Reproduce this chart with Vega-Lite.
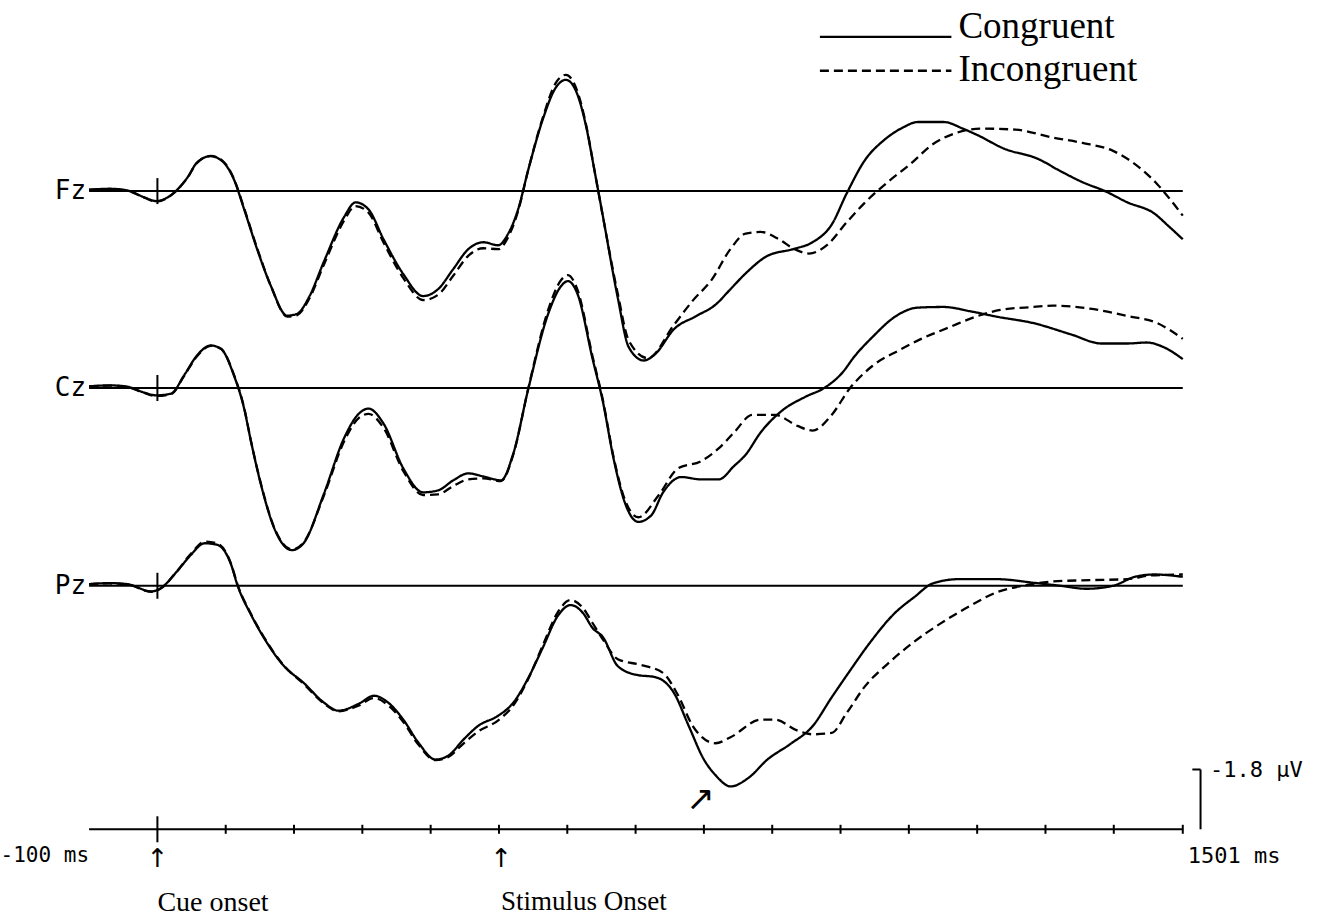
{
  "$schema": "https://vega.github.io/schema/vega-lite/v6.json",
  "width": 1333,
  "height": 918,
  "autosize": {"type": "fit", "contains": "padding"},
  "padding": 0,
  "background": "white",
  "config": {"view": {"stroke": null}, "axis": {"disable": true}},
  "datasets": {
    "Fz": [
      {"c":"Congruent","t":-100,"v":-0.04},{"c":"Congruent","t":-70,"v":-0.07},{"c":"Congruent","t":-44,"v":-0.02},{"c":"Congruent","t":-19,"v":0.19},{"c":"Congruent","t":-2,"v":0.30},{"c":"Congruent","t":15,"v":0.19},{"c":"Congruent","t":27,"v":0.0},{"c":"Congruent","t":44,"v":-0.41},{"c":"Congruent","t":58,"v":-0.86},{"c":"Congruent","t":78,"v":-1.05},{"c":"Congruent","t":95,"v":-0.90},{"c":"Congruent","t":112,"v":-0.35},{"c":"Congruent","t":127,"v":0.55},{"c":"Congruent","t":146,"v":1.75},{"c":"Congruent","t":166,"v":2.85},{"c":"Congruent","t":190,"v":3.75},{"c":"Congruent","t":204,"v":3.70},{"c":"Congruent","t":222,"v":3.19},{"c":"Congruent","t":244,"v":2.11},{"c":"Congruent","t":273,"v":0.79},{"c":"Congruent","t":290,"v":0.34},{"c":"Congruent","t":309,"v":0.55},{"c":"Congruent","t":331,"v":1.45},{"c":"Congruent","t":360,"v":2.50},{"c":"Congruent","t":389,"v":3.16},{"c":"Congruent","t":411,"v":2.95},{"c":"Congruent","t":433,"v":2.35},{"c":"Congruent","t":455,"v":1.75},{"c":"Congruent","t":477,"v":1.54},{"c":"Congruent","t":499,"v":1.63},{"c":"Congruent","t":513,"v":1.30},{"c":"Congruent","t":528,"v":0.55},{"c":"Congruent","t":543,"v":-0.65},{"c":"Congruent","t":564,"v":-2.15},{"c":"Congruent","t":583,"v":-3.11},{"c":"Congruent","t":598,"v":-3.35},{"c":"Congruent","t":613,"v":-3.0},{"c":"Congruent","t":627,"v":-2.0},{"c":"Congruent","t":640,"v":-0.6},{"c":"Congruent","t":652,"v":0.74},{"c":"Congruent","t":674,"v":3.22},{"c":"Congruent","t":690,"v":4.70},{"c":"Congruent","t":712,"v":5.10},{"c":"Congruent","t":729,"v":4.90},{"c":"Congruent","t":756,"v":4.16},{"c":"Congruent","t":789,"v":3.76},{"c":"Congruent","t":817,"v":3.42},{"c":"Congruent","t":839,"v":2.95},{"c":"Congruent","t":861,"v":2.48},{"c":"Congruent","t":893,"v":1.95},{"c":"Congruent","t":932,"v":1.74},{"c":"Congruent","t":959,"v":1.54},{"c":"Congruent","t":987,"v":1.01},{"c":"Congruent","t":1009,"v":0.07},{"c":"Congruent","t":1036,"v":-0.94},{"c":"Congruent","t":1064,"v":-1.54},{"c":"Congruent","t":1091,"v":-1.91},{"c":"Congruent","t":1113,"v":-2.08},{"c":"Congruent","t":1151,"v":-2.08},{"c":"Congruent","t":1179,"v":-1.88},{"c":"Congruent","t":1201,"v":-1.68},{"c":"Congruent","t":1239,"v":-1.28},{"c":"Congruent","t":1289,"v":-0.97},{"c":"Congruent","t":1322,"v":-0.60},{"c":"Congruent","t":1354,"v":-0.27},{"c":"Congruent","t":1387,"v":0.0},{"c":"Congruent","t":1420,"v":0.34},{"c":"Congruent","t":1459,"v":0.67},{"c":"Congruent","t":1481,"v":1.07},{"c":"Congruent","t":1501,"v":1.45},
      {"c":"Incongruent","t":-100,"v":-0.04},{"c":"Incongruent","t":-70,"v":-0.06},{"c":"Incongruent","t":-44,"v":-0.01},{"c":"Incongruent","t":-19,"v":0.20},{"c":"Incongruent","t":-2,"v":0.32},{"c":"Incongruent","t":15,"v":0.20},{"c":"Incongruent","t":27,"v":0.0},{"c":"Incongruent","t":44,"v":-0.40},{"c":"Incongruent","t":58,"v":-0.85},{"c":"Incongruent","t":78,"v":-1.06},{"c":"Incongruent","t":95,"v":-0.92},{"c":"Incongruent","t":112,"v":-0.37},{"c":"Incongruent","t":127,"v":0.52},{"c":"Incongruent","t":146,"v":1.72},{"c":"Incongruent","t":166,"v":2.85},{"c":"Incongruent","t":190,"v":3.78},{"c":"Incongruent","t":204,"v":3.74},{"c":"Incongruent","t":222,"v":3.25},{"c":"Incongruent","t":244,"v":2.2},{"c":"Incongruent","t":273,"v":0.9},{"c":"Incongruent","t":290,"v":0.45},{"c":"Incongruent","t":309,"v":0.65},{"c":"Incongruent","t":331,"v":1.55},{"c":"Incongruent","t":360,"v":2.62},{"c":"Incongruent","t":389,"v":3.28},{"c":"Incongruent","t":411,"v":3.12},{"c":"Incongruent","t":433,"v":2.55},{"c":"Incongruent","t":455,"v":1.95},{"c":"Incongruent","t":477,"v":1.72},{"c":"Incongruent","t":499,"v":1.75},{"c":"Incongruent","t":513,"v":1.4},{"c":"Incongruent","t":528,"v":0.6},{"c":"Incongruent","t":543,"v":-0.65},{"c":"Incongruent","t":564,"v":-2.2},{"c":"Incongruent","t":583,"v":-3.25},{"c":"Incongruent","t":598,"v":-3.5},{"c":"Incongruent","t":613,"v":-3.1},{"c":"Incongruent","t":627,"v":-2.05},{"c":"Incongruent","t":640,"v":-0.6},{"c":"Incongruent","t":652,"v":0.75},{"c":"Incongruent","t":674,"v":3.1},{"c":"Incongruent","t":690,"v":4.5},{"c":"Incongruent","t":718,"v":5.03},{"c":"Incongruent","t":756,"v":4.03},{"c":"Incongruent","t":784,"v":3.29},{"c":"Incongruent","t":811,"v":2.68},{"c":"Incongruent","t":839,"v":1.74},{"c":"Incongruent","t":861,"v":1.28},{"c":"Incongruent","t":883,"v":1.23},{"c":"Incongruent","t":910,"v":1.45},{"c":"Incongruent","t":932,"v":1.74},{"c":"Incongruent","t":954,"v":1.88},{"c":"Incongruent","t":981,"v":1.61},{"c":"Incongruent","t":1009,"v":0.94},{"c":"Incongruent","t":1036,"v":0.34},{"c":"Incongruent","t":1069,"v":-0.27},{"c":"Incongruent","t":1102,"v":-0.81},{"c":"Incongruent","t":1135,"v":-1.41},{"c":"Incongruent","t":1168,"v":-1.74},{"c":"Incongruent","t":1206,"v":-1.88},{"c":"Incongruent","t":1256,"v":-1.85},{"c":"Incongruent","t":1311,"v":-1.61},{"c":"Incongruent","t":1354,"v":-1.45},{"c":"Incongruent","t":1399,"v":-1.21},{"c":"Incongruent","t":1431,"v":-0.81},{"c":"Incongruent","t":1464,"v":-0.20},{"c":"Incongruent","t":1486,"v":0.34},{"c":"Incongruent","t":1501,"v":0.74}
    ],
    "Cz": [
      {"c":"Congruent","t":-100,"v":-0.05},{"c":"Congruent","t":-70,"v":-0.08},{"c":"Congruent","t":-44,"v":-0.04},{"c":"Congruent","t":-19,"v":0.14},{"c":"Congruent","t":-2,"v":0.22},{"c":"Congruent","t":20,"v":0.17},{"c":"Congruent","t":39,"v":-0.38},{"c":"Congruent","t":58,"v":-0.98},{"c":"Congruent","t":78,"v":-1.28},{"c":"Congruent","t":93,"v":-1.18},{"c":"Congruent","t":112,"v":-0.38},{"c":"Congruent","t":127,"v":0.62},{"c":"Congruent","t":137,"v":1.61},{"c":"Congruent","t":153,"v":3.02},{"c":"Congruent","t":171,"v":4.22},{"c":"Congruent","t":197,"v":4.88},{"c":"Congruent","t":214,"v":4.67},{"c":"Congruent","t":244,"v":3.17},{"c":"Congruent","t":273,"v":1.52},{"c":"Congruent","t":295,"v":0.77},{"c":"Congruent","t":309,"v":0.62},{"c":"Congruent","t":331,"v":1.07},{"c":"Congruent","t":360,"v":2.42},{"c":"Congruent","t":389,"v":3.14},{"c":"Congruent","t":411,"v":3.08},{"c":"Congruent","t":433,"v":2.78},{"c":"Congruent","t":455,"v":2.57},{"c":"Congruent","t":477,"v":2.66},{"c":"Congruent","t":503,"v":2.78},{"c":"Congruent","t":521,"v":1.97},{"c":"Congruent","t":543,"v":0.02},{"c":"Congruent","t":572,"v":-2.23},{"c":"Congruent","t":591,"v":-3.07},{"c":"Congruent","t":601,"v":-3.22},{"c":"Congruent","t":615,"v":-2.83},{"c":"Congruent","t":637,"v":-0.88},{"c":"Congruent","t":652,"v":0.40},{"c":"Congruent","t":668,"v":2.15},{"c":"Congruent","t":685,"v":3.49},{"c":"Congruent","t":704,"v":4.03},{"c":"Congruent","t":723,"v":3.83},{"c":"Congruent","t":740,"v":3.15},{"c":"Congruent","t":767,"v":2.68},{"c":"Congruent","t":795,"v":2.75},{"c":"Congruent","t":822,"v":2.75},{"c":"Congruent","t":844,"v":2.35},{"c":"Congruent","t":861,"v":2.01},{"c":"Congruent","t":883,"v":1.34},{"c":"Congruent","t":915,"v":0.67},{"c":"Congruent","t":948,"v":0.27},{"c":"Congruent","t":976,"v":0.0},{"c":"Congruent","t":1003,"v":-0.47},{"c":"Congruent","t":1020,"v":-0.94},{"c":"Congruent","t":1047,"v":-1.54},{"c":"Congruent","t":1080,"v":-2.15},{"c":"Congruent","t":1113,"v":-2.42},{"c":"Congruent","t":1151,"v":-2.44},{"c":"Congruent","t":1190,"v":-2.31},{"c":"Congruent","t":1228,"v":-2.15},{"c":"Congruent","t":1283,"v":-1.95},{"c":"Congruent","t":1338,"v":-1.61},{"c":"Congruent","t":1382,"v":-1.34},{"c":"Congruent","t":1420,"v":-1.34},{"c":"Congruent","t":1448,"v":-1.37},{"c":"Congruent","t":1475,"v":-1.21},{"c":"Congruent","t":1501,"v":-0.87},
      {"c":"Incongruent","t":-100,"v":-0.05},{"c":"Incongruent","t":-70,"v":-0.07},{"c":"Incongruent","t":-44,"v":-0.03},{"c":"Incongruent","t":-19,"v":0.15},{"c":"Incongruent","t":-2,"v":0.24},{"c":"Incongruent","t":20,"v":0.18},{"c":"Incongruent","t":39,"v":-0.36},{"c":"Incongruent","t":58,"v":-0.96},{"c":"Incongruent","t":78,"v":-1.27},{"c":"Incongruent","t":93,"v":-1.18},{"c":"Incongruent","t":112,"v":-0.40},{"c":"Incongruent","t":127,"v":0.60},{"c":"Incongruent","t":137,"v":1.60},{"c":"Incongruent","t":153,"v":3.00},{"c":"Incongruent","t":171,"v":4.20},{"c":"Incongruent","t":197,"v":4.86},{"c":"Incongruent","t":214,"v":4.65},{"c":"Incongruent","t":244,"v":3.22},{"c":"Incongruent","t":273,"v":1.62},{"c":"Incongruent","t":295,"v":0.90},{"c":"Incongruent","t":309,"v":0.78},{"c":"Incongruent","t":331,"v":1.20},{"c":"Incongruent","t":360,"v":2.50},{"c":"Incongruent","t":389,"v":3.22},{"c":"Incongruent","t":411,"v":3.20},{"c":"Incongruent","t":433,"v":2.95},{"c":"Incongruent","t":455,"v":2.75},{"c":"Incongruent","t":477,"v":2.72},{"c":"Incongruent","t":503,"v":2.80},{"c":"Incongruent","t":521,"v":2.00},{"c":"Incongruent","t":543,"v":0.0},{"c":"Incongruent","t":572,"v":-2.35},{"c":"Incongruent","t":591,"v":-3.25},{"c":"Incongruent","t":601,"v":-3.40},{"c":"Incongruent","t":615,"v":-2.95},{"c":"Incongruent","t":637,"v":-0.95},{"c":"Incongruent","t":652,"v":0.35},{"c":"Incongruent","t":668,"v":2.10},{"c":"Incongruent","t":685,"v":3.40},{"c":"Incongruent","t":704,"v":3.89},{"c":"Incongruent","t":734,"v":3.22},{"c":"Incongruent","t":762,"v":2.42},{"c":"Incongruent","t":795,"v":2.21},{"c":"Incongruent","t":822,"v":1.81},{"c":"Incongruent","t":844,"v":1.34},{"c":"Incongruent","t":871,"v":0.81},{"c":"Incongruent","t":904,"v":0.81},{"c":"Incongruent","t":937,"v":1.14},{"c":"Incongruent","t":959,"v":1.28},{"c":"Incongruent","t":987,"v":0.81},{"c":"Incongruent","t":1014,"v":0.0},{"c":"Incongruent","t":1047,"v":-0.67},{"c":"Incongruent","t":1086,"v":-1.14},{"c":"Incongruent","t":1118,"v":-1.48},{"c":"Incongruent","t":1157,"v":-1.81},{"c":"Incongruent","t":1201,"v":-2.17},{"c":"Incongruent","t":1234,"v":-2.35},{"c":"Incongruent","t":1283,"v":-2.44},{"c":"Incongruent","t":1311,"v":-2.48},{"c":"Incongruent","t":1365,"v":-2.39},{"c":"Incongruent","t":1420,"v":-2.17},{"c":"Incongruent","t":1464,"v":-1.95},{"c":"Incongruent","t":1501,"v":-1.48}
    ],
    "Pz": [
      {"c":"Congruent","t":-100,"v":-0.05},{"c":"Congruent","t":-70,"v":-0.08},{"c":"Congruent","t":-44,"v":-0.05},{"c":"Congruent","t":-9,"v":0.17},{"c":"Congruent","t":5,"v":0.07},{"c":"Congruent","t":29,"v":-0.44},{"c":"Congruent","t":49,"v":-0.93},{"c":"Congruent","t":69,"v":-1.28},{"c":"Congruent","t":88,"v":-1.23},{"c":"Congruent","t":108,"v":-0.63},{"c":"Congruent","t":117,"v":-0.03},{"c":"Congruent","t":137,"v":0.87},{"c":"Congruent","t":156,"v":1.57},{"c":"Congruent","t":185,"v":2.41},{"c":"Congruent","t":214,"v":2.92},{"c":"Congruent","t":244,"v":3.52},{"c":"Congruent","t":265,"v":3.76},{"c":"Congruent","t":295,"v":3.55},{"c":"Congruent","t":317,"v":3.31},{"c":"Congruent","t":338,"v":3.52},{"c":"Congruent","t":360,"v":4.03},{"c":"Congruent","t":382,"v":4.72},{"c":"Congruent","t":407,"v":5.23},{"c":"Congruent","t":426,"v":5.11},{"c":"Congruent","t":448,"v":4.63},{"c":"Congruent","t":470,"v":4.21},{"c":"Congruent","t":499,"v":3.91},{"c":"Congruent","t":521,"v":3.52},{"c":"Congruent","t":543,"v":2.77},{"c":"Congruent","t":564,"v":1.87},{"c":"Congruent","t":586,"v":0.91},{"c":"Congruent","t":605,"v":0.58},{"c":"Congruent","t":623,"v":0.82},{"c":"Congruent","t":637,"v":1.27},{"c":"Congruent","t":652,"v":1.54},{"c":"Congruent","t":674,"v":2.42},{"c":"Congruent","t":701,"v":2.68},{"c":"Congruent","t":729,"v":2.75},{"c":"Congruent","t":756,"v":3.22},{"c":"Congruent","t":778,"v":4.23},{"c":"Congruent","t":800,"v":5.23},{"c":"Congruent","t":817,"v":5.70},{"c":"Congruent","t":839,"v":6.04},{"c":"Congruent","t":866,"v":5.77},{"c":"Congruent","t":893,"v":5.23},{"c":"Congruent","t":926,"v":4.77},{"c":"Congruent","t":959,"v":4.23},{"c":"Congruent","t":987,"v":3.36},{"c":"Congruent","t":1014,"v":2.55},{"c":"Congruent","t":1042,"v":1.74},{"c":"Congruent","t":1080,"v":0.81},{"c":"Congruent","t":1108,"v":0.34},{"c":"Congruent","t":1135,"v":-0.07},{"c":"Congruent","t":1173,"v":-0.20},{"c":"Congruent","t":1228,"v":-0.20},{"c":"Congruent","t":1283,"v":-0.09},{"c":"Congruent","t":1322,"v":0.0},{"c":"Congruent","t":1360,"v":0.09},{"c":"Congruent","t":1399,"v":0.0},{"c":"Congruent","t":1431,"v":-0.27},{"c":"Congruent","t":1459,"v":-0.34},{"c":"Congruent","t":1501,"v":-0.27},
      {"c":"Incongruent","t":-100,"v":-0.05},{"c":"Incongruent","t":-70,"v":-0.07},{"c":"Incongruent","t":-44,"v":-0.04},{"c":"Incongruent","t":-9,"v":0.18},{"c":"Incongruent","t":5,"v":0.08},{"c":"Incongruent","t":29,"v":-0.45},{"c":"Incongruent","t":49,"v":-0.96},{"c":"Incongruent","t":69,"v":-1.33},{"c":"Incongruent","t":88,"v":-1.27},{"c":"Incongruent","t":108,"v":-0.65},{"c":"Incongruent","t":117,"v":-0.05},{"c":"Incongruent","t":137,"v":0.85},{"c":"Incongruent","t":156,"v":1.55},{"c":"Incongruent","t":185,"v":2.40},{"c":"Incongruent","t":214,"v":2.95},{"c":"Incongruent","t":244,"v":3.55},{"c":"Incongruent","t":265,"v":3.78},{"c":"Incongruent","t":295,"v":3.60},{"c":"Incongruent","t":317,"v":3.38},{"c":"Incongruent","t":338,"v":3.60},{"c":"Incongruent","t":360,"v":4.10},{"c":"Incongruent","t":382,"v":4.78},{"c":"Incongruent","t":407,"v":5.25},{"c":"Incongruent","t":426,"v":5.15},{"c":"Incongruent","t":448,"v":4.75},{"c":"Incongruent","t":470,"v":4.38},{"c":"Incongruent","t":499,"v":4.05},{"c":"Incongruent","t":521,"v":3.60},{"c":"Incongruent","t":543,"v":2.80},{"c":"Incongruent","t":564,"v":1.80},{"c":"Incongruent","t":586,"v":0.80},{"c":"Incongruent","t":605,"v":0.43},{"c":"Incongruent","t":623,"v":0.67},{"c":"Incongruent","t":637,"v":1.12},{"c":"Incongruent","t":652,"v":1.61},{"c":"Incongruent","t":674,"v":2.21},{"c":"Incongruent","t":707,"v":2.38},{"c":"Incongruent","t":740,"v":2.62},{"c":"Incongruent","t":762,"v":3.29},{"c":"Incongruent","t":784,"v":4.23},{"c":"Incongruent","t":817,"v":4.74},{"c":"Incongruent","t":839,"v":4.56},{"c":"Incongruent","t":883,"v":4.03},{"c":"Incongruent","t":904,"v":4.03},{"c":"Incongruent","t":937,"v":4.36},{"c":"Incongruent","t":959,"v":4.47},{"c":"Incongruent","t":987,"v":4.43},{"c":"Incongruent","t":1009,"v":3.83},{"c":"Incongruent","t":1036,"v":3.02},{"c":"Incongruent","t":1069,"v":2.35},{"c":"Incongruent","t":1108,"v":1.68},{"c":"Incongruent","t":1146,"v":1.14},{"c":"Incongruent","t":1190,"v":0.60},{"c":"Incongruent","t":1228,"v":0.20},{"c":"Incongruent","t":1267,"v":0.0},{"c":"Incongruent","t":1311,"v":-0.13},{"c":"Incongruent","t":1365,"v":-0.17},{"c":"Incongruent","t":1420,"v":-0.20},{"c":"Incongruent","t":1453,"v":-0.31},{"c":"Incongruent","t":1501,"v":-0.34}
    ],
    "electrodes": [
      {"electrode": "Fz", "zero": 0}, {"electrode": "Cz", "zero": 0}, {"electrode": "Pz", "zero": 0}
    ],
    "timeTicks": [
      {"t": 100, "zero": 0}, {"t": 200, "zero": 0}, {"t": 300, "zero": 0}, {"t": 400, "zero": 0}, {"t": 500, "zero": 0}, {"t": 600, "zero": 0}, {"t": 700, "zero": 0}, {"t": 800, "zero": 0}, {"t": 900, "zero": 0}, {"t": 1000, "zero": 0}, {"t": 1100, "zero": 0}, {"t": 1200, "zero": 0}, {"t": 1300, "zero": 0}, {"t": 1400, "zero": 0}, {"t": 1501, "zero": 0}
    ],
    "calibration": [
      {"zero": 0, "bar": -1.8, "unit": "-1.8 µV", "start": "-100 ms", "end": "1501 ms", "up": "↑", "cue": "Cue onset", "stim": "Stimulus Onset", "pointer": "↗"}
    ],
    "scaleBar": [
      {"v": 0}, {"v": -1.8}
    ],
    "conditions": [
      {"c": "Congruent", "slot": 0}, {"c": "Incongruent", "slot": 1}
    ]
  },
  "layer": [
    {
      "data": {"name": "Fz"},
      "mark": {"type": "line", "interpolate": "monotone", "color": "black", "strokeWidth": 2.3},
      "encoding": {
        "x": {"field": "t", "type": "quantitative", "scale": {"domain": [-223.1, 1720.9], "nice": false, "zero": false}, "axis": null},
        "y": {"field": "v", "type": "quantitative", "scale": {"domain": [-5.752, 21.791], "reverse": true, "nice": false, "zero": false}, "axis": null},
        "strokeDash": {"field": "c", "type": "nominal", "scale": {"domain": ["Congruent", "Incongruent"], "range": [[1, 0], [9, 5]]}, "legend": null}
      }
    },
    {
      "data": {"name": "Cz"},
      "mark": {"type": "line", "interpolate": "monotone", "color": "black", "strokeWidth": 2.3},
      "encoding": {
        "x": {"field": "t", "type": "quantitative", "axis": null},
        "y": {"field": "v", "type": "quantitative", "scale": {"domain": [-11.68, 15.863], "reverse": true, "nice": false, "zero": false}, "axis": null},
        "strokeDash": {"field": "c", "type": "nominal", "legend": null}
      }
    },
    {
      "data": {"name": "Pz"},
      "mark": {"type": "line", "interpolate": "monotone", "color": "black", "strokeWidth": 2.3},
      "encoding": {
        "x": {"field": "t", "type": "quantitative", "axis": null},
        "y": {"field": "v", "type": "quantitative", "scale": {"domain": [-17.633, 9.91], "reverse": true, "nice": false, "zero": false}, "axis": null},
        "strokeDash": {"field": "c", "type": "nominal", "legend": null}
      }
    },
    {
      "data": {"name": "electrodes"},
      "transform": [{"filter": "datum.electrode === 'Fz'"}],
      "layer": [
        {"mark": {"type": "rule", "color": "black", "strokeWidth": 2},
         "encoding": {"x": {"datum": -100, "type": "quantitative", "axis": null}, "x2": {"datum": 1501}, "y": {"field": "zero", "type": "quantitative", "scale": {"domain": [-5.752, 21.791], "reverse": true, "nice": false, "zero": false}, "axis": null}}},
        {"mark": {"type": "tick", "orient": "vertical", "size": 26, "thickness": 2, "color": "black", "opacity": 1},
         "encoding": {"x": {"datum": 0, "type": "quantitative", "axis": null}, "y": {"field": "zero", "type": "quantitative", "axis": null}}},
        {"mark": {"type": "text", "align": "right", "baseline": "middle", "dx": -3, "font": "DejaVu Sans Mono", "fontSize": 26, "color": "black"},
         "encoding": {"x": {"datum": -100, "type": "quantitative", "axis": null}, "y": {"field": "zero", "type": "quantitative", "axis": null}, "text": {"field": "electrode"}}}
      ]
    },
    {
      "data": {"name": "electrodes"},
      "transform": [{"filter": "datum.electrode === 'Cz'"}],
      "layer": [
        {"mark": {"type": "rule", "color": "black", "strokeWidth": 2},
         "encoding": {"x": {"datum": -100, "type": "quantitative", "axis": null}, "x2": {"datum": 1501}, "y": {"field": "zero", "type": "quantitative", "scale": {"domain": [-11.68, 15.863], "reverse": true, "nice": false, "zero": false}, "axis": null}}},
        {"mark": {"type": "tick", "orient": "vertical", "size": 26, "thickness": 2, "color": "black", "opacity": 1},
         "encoding": {"x": {"datum": 0, "type": "quantitative", "axis": null}, "y": {"field": "zero", "type": "quantitative", "axis": null}}},
        {"mark": {"type": "text", "align": "right", "baseline": "middle", "dx": -3, "font": "DejaVu Sans Mono", "fontSize": 26, "color": "black"},
         "encoding": {"x": {"datum": -100, "type": "quantitative", "axis": null}, "y": {"field": "zero", "type": "quantitative", "axis": null}, "text": {"field": "electrode"}}}
      ]
    },
    {
      "data": {"name": "electrodes"},
      "transform": [{"filter": "datum.electrode === 'Pz'"}],
      "layer": [
        {"mark": {"type": "rule", "color": "black", "strokeWidth": 2},
         "encoding": {"x": {"datum": -100, "type": "quantitative", "axis": null}, "x2": {"datum": 1501}, "y": {"field": "zero", "type": "quantitative", "scale": {"domain": [-17.633, 9.91], "reverse": true, "nice": false, "zero": false}, "axis": null}}},
        {"mark": {"type": "tick", "orient": "vertical", "size": 26, "thickness": 2, "color": "black", "opacity": 1},
         "encoding": {"x": {"datum": 0, "type": "quantitative", "axis": null}, "y": {"field": "zero", "type": "quantitative", "axis": null}}},
        {"mark": {"type": "text", "align": "right", "baseline": "middle", "dx": -3, "font": "DejaVu Sans Mono", "fontSize": 26, "color": "black"},
         "encoding": {"x": {"datum": -100, "type": "quantitative", "axis": null}, "y": {"field": "zero", "type": "quantitative", "axis": null}, "text": {"field": "electrode"}}}
      ]
    },
    {
      "data": {"name": "timeTicks"},
      "mark": {"type": "tick", "orient": "vertical", "size": 9, "thickness": 2, "color": "black", "opacity": 1},
      "encoding": {
        "x": {"field": "t", "type": "quantitative", "axis": null},
        "y": {"field": "zero", "type": "quantitative", "scale": {"domain": [-24.962, 2.58], "reverse": true, "nice": false, "zero": false}, "axis": null}
      }
    },
    {
      "data": {"name": "scaleBar"},
      "mark": {"type": "line", "color": "black", "strokeWidth": 2},
      "encoding": {
        "x": {"datum": 1527, "type": "quantitative", "axis": null},
        "y": {"field": "v", "type": "quantitative", "scale": {"domain": [-24.962, 2.58], "reverse": true, "nice": false, "zero": false}, "axis": null}
      }
    },
    {
      "data": {"name": "calibration"},
      "layer": [
        {"mark": {"type": "rule", "color": "black", "strokeWidth": 2},
         "encoding": {"x": {"datum": -100, "type": "quantitative", "axis": null}, "x2": {"datum": 1501}, "y": {"field": "zero", "type": "quantitative", "scale": {"domain": [-24.962, 2.58], "reverse": true, "nice": false, "zero": false}, "axis": null}}},
        {"mark": {"type": "tick", "orient": "vertical", "size": 26, "thickness": 2, "color": "black", "opacity": 1},
         "encoding": {"x": {"datum": 0, "type": "quantitative", "axis": null}, "y": {"field": "zero", "type": "quantitative", "axis": null}}},
        {"mark": {"type": "rule", "color": "black", "strokeWidth": 2},
         "encoding": {"x": {"datum": 1515, "type": "quantitative", "axis": null}, "x2": {"datum": 1527}, "y": {"field": "bar", "type": "quantitative", "axis": null}}},
        {"mark": {"type": "text", "align": "left", "baseline": "middle", "dy": 1, "font": "DejaVu Sans Mono", "fontSize": 22, "color": "black"},
         "encoding": {"x": {"datum": 1541, "type": "quantitative", "axis": null}, "y": {"field": "bar", "type": "quantitative", "axis": null}, "text": {"field": "unit"}}},
        {"mark": {"type": "text", "align": "right", "baseline": "middle", "dy": 27, "font": "DejaVu Sans Mono", "fontSize": 21, "color": "black"},
         "encoding": {"x": {"datum": -100, "type": "quantitative", "axis": null}, "y": {"field": "zero", "type": "quantitative", "axis": null}, "text": {"field": "start"}}},
        {"mark": {"type": "text", "align": "left", "baseline": "middle", "dx": 5, "dy": 27, "font": "DejaVu Sans Mono", "fontSize": 22, "color": "black"},
         "encoding": {"x": {"datum": 1501, "type": "quantitative", "axis": null}, "y": {"field": "zero", "type": "quantitative", "axis": null}, "text": {"field": "end"}}},
        {"mark": {"type": "text", "align": "center", "baseline": "middle", "dy": 30, "font": "DejaVu Sans", "fontSize": 26, "color": "black"},
         "encoding": {"x": {"datum": 0, "type": "quantitative", "axis": null}, "y": {"field": "zero", "type": "quantitative", "axis": null}, "text": {"field": "up"}}},
        {"mark": {"type": "text", "align": "center", "baseline": "middle", "dy": 30, "font": "DejaVu Sans", "fontSize": 26, "color": "black"},
         "encoding": {"x": {"datum": 503, "type": "quantitative", "axis": null}, "y": {"field": "zero", "type": "quantitative", "axis": null}, "text": {"field": "up"}}},
        {"mark": {"type": "text", "align": "left", "baseline": "middle", "dy": 74, "font": "Liberation Serif", "fontSize": 28, "color": "black"},
         "encoding": {"x": {"datum": 0, "type": "quantitative", "axis": null}, "y": {"field": "zero", "type": "quantitative", "axis": null}, "text": {"field": "cue"}}},
        {"mark": {"type": "text", "align": "left", "baseline": "middle", "dy": 73, "font": "Liberation Serif", "fontSize": 27, "color": "black"},
         "encoding": {"x": {"datum": 503, "type": "quantitative", "axis": null}, "y": {"field": "zero", "type": "quantitative", "axis": null}, "text": {"field": "stim"}}},
        {"mark": {"type": "text", "align": "center", "baseline": "middle", "dy": -29, "font": "DejaVu Sans", "fontSize": 34, "color": "black"},
         "encoding": {"x": {"datum": 795, "type": "quantitative", "axis": null}, "y": {"field": "zero", "type": "quantitative", "axis": null}, "text": {"field": "pointer"}}}
      ]
    },
    {
      "data": {"name": "conditions"},
      "transform": [{"filter": "datum.c === 'Congruent'"}],
      "layer": [
        {"mark": {"type": "rule", "color": "black", "strokeWidth": 2.3},
         "encoding": {"x": {"datum": 969.8, "type": "quantitative", "axis": null}, "x2": {"datum": 1162.3}, "y": {"field": "slot", "type": "quantitative", "scale": {"domain": [-1.088, 25.912], "reverse": true, "nice": false, "zero": false}, "axis": null}}},
        {"mark": {"type": "text", "align": "left", "baseline": "alphabetic", "dy": 1, "font": "Liberation Serif", "fontSize": 37, "color": "black"},
         "encoding": {"x": {"datum": 1172.6, "type": "quantitative", "axis": null}, "y": {"field": "slot", "type": "quantitative", "axis": null}, "text": {"field": "c"}}}
      ]
    },
    {
      "data": {"name": "conditions"},
      "transform": [{"filter": "datum.c === 'Incongruent'"}],
      "layer": [
        {"mark": {"type": "rule", "color": "black", "strokeWidth": 2.3, "strokeDash": [9, 5]},
         "encoding": {"x": {"datum": 969.8, "type": "quantitative", "axis": null}, "x2": {"datum": 1162.3}, "y": {"field": "slot", "type": "quantitative", "scale": {"domain": [-1.088, 25.912], "reverse": true, "nice": false, "zero": false}, "axis": null}}},
        {"mark": {"type": "text", "align": "left", "baseline": "alphabetic", "dy": 10, "font": "Liberation Serif", "fontSize": 37, "color": "black"},
         "encoding": {"x": {"datum": 1172.6, "type": "quantitative", "axis": null}, "y": {"field": "slot", "type": "quantitative", "axis": null}, "text": {"field": "c"}}}
      ]
    }
  ],
  "resolve": {"scale": {"y": "independent"}}
}
